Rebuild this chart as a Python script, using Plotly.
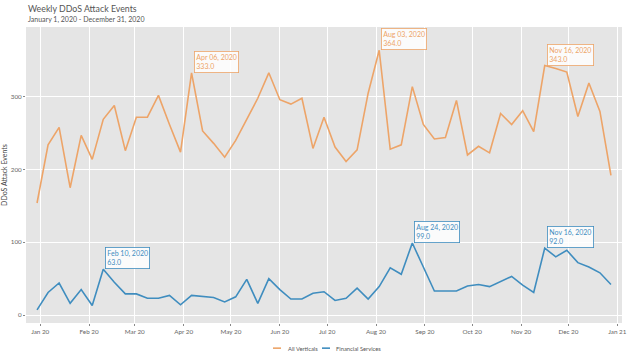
import pandas as pd
import plotly.graph_objects as go

weeks = pd.date_range("2019-12-30", periods=53, freq="7D")

all_verticals = [154, 234, 258, 175, 247, 214, 269, 288, 226, 272,
                 272, 302, 262, 224, 333, 253, 236, 217, 240, 268,
                 298, 333, 296, 290, 298, 229, 272, 231, 211, 227,
                 305, 364, 228, 234, 314, 262, 242, 244, 295, 220,
                 232, 223, 277, 262, 281, 252, 343, 339, 334, 273,
                 319, 280, 192]

financial = [7, 31, 44, 16, 35, 13, 63, 45, 29, 29,
             23, 23, 27, 14, 27, 25, 24, 18, 25, 49,
             16, 50, 35, 22, 22, 30, 32, 20, 23, 37,
             22, 39, 65, 56, 99, 66, 33, 33, 33, 40,
             42, 39, 46, 53, 41, 31, 92, 80, 89, 72,
             66, 58, 42]

series_names = ["All Verticals", "Financial Services"]
series_colors = ["#EDA468", "#3F8DBF"]

callouts = [
    (0, 14), (0, 31), (0, 46),
    (1, 6), (1, 34), (1, 46),
]

fig = go.Figure()
for name, vals, col in zip(series_names, [all_verticals, financial], series_colors):
    fig.add_trace(go.Scatter(x=weeks, y=vals, mode="lines", name=name,
                             line=dict(color=col, width=1.6), showlegend=False))

data = [all_verticals, financial]
for s, i in callouts:
    d = weeks[i]
    v = data[s][i]
    fig.add_annotation(x=d, y=v, xref="x", yref="y", showarrow=False,
                       xanchor="left", yanchor="bottom", xshift=2, yshift=0,
                       align="left",
                       text=f"{d.strftime('%b %d, %Y')}<br>{v:.1f}",
                       font=dict(size=7, color=series_colors[s], family="Lato"),
                       bgcolor="rgba(255,255,255,0.85)",
                       bordercolor=series_colors[s], borderwidth=0.8, borderpad=1.5)

fig.add_annotation(text="Weekly DDoS Attack Events", xref="paper", yref="paper",
                   x=0, y=1, xanchor="left", yanchor="bottom", yshift=11,
                   showarrow=False, font=dict(size=8.8, color="#555555", family="Lato"))
fig.add_annotation(text="January 1, 2020 - December 31, 2020", xref="paper", yref="paper",
                   x=0, y=1, xanchor="left", yanchor="bottom", yshift=1,
                   showarrow=False, font=dict(size=7, color="#555555", family="Lato"))

# manual legend (short line keys as in the reference)
legend_y = -0.085
legend_items = [(0.4144, 0.4362), (0.4966, 0.5168)]
for (x0, xt), name, col in zip(legend_items, series_names, series_colors):
    fig.add_shape(type="line", xref="paper", yref="paper", x0=x0, x1=x0 + 0.0135,
                  y0=legend_y, y1=legend_y, line=dict(color=col, width=1.6))
    fig.add_annotation(text=name, xref="paper", yref="paper", x=xt, y=legend_y,
                       xanchor="left", yanchor="middle", showarrow=False,
                       font=dict(size=5.8, color="#555555", family="Lato"))

fig.update_layout(
    width=640, height=363,
    margin=dict(l=26, r=18, t=27, b=40),
    paper_bgcolor="white",
    plot_bgcolor="#E5E5E5",
    font=dict(family="Lato", color="#555555", size=7),
    showlegend=False,
)
fig.update_xaxes(range=["2019-12-23", "2021-01-04"], dtick="M1", tickformat="%b %y",
                 showgrid=True, gridcolor="white", gridwidth=1,
                 ticks="outside", ticklen=2, tickcolor="#888888",
                 tickfont=dict(size=6.3, color="#666666"), zeroline=False,
                 showline=False, automargin=False)
fig.update_yaxes(range=[-11, 396], tickvals=[0, 100, 200, 300],
                 showgrid=True, gridcolor="white", gridwidth=1,
                 ticks="outside", ticklen=2, tickcolor="#888888",
                 tickfont=dict(size=6.3, color="#666666"), zeroline=False,
                 title=dict(text="DDoS Attack Events", font=dict(size=7, color="#444444"),
                            standoff=3),
                 showline=False, automargin=False)

fig.write_html("out.html", config={"displayModeBar": False},
               post_script="document.body.style.margin='0';")
